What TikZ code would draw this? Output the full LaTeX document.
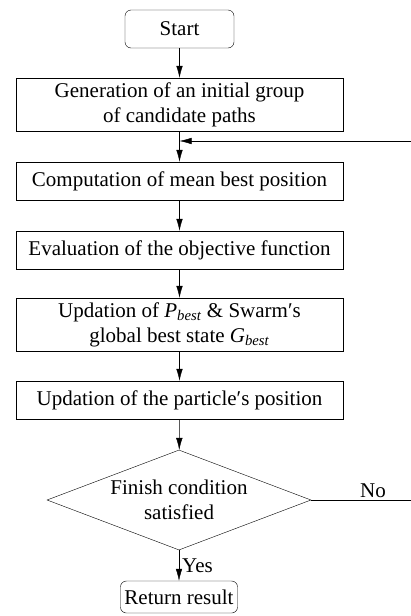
\documentclass[tikz,border=0pt]{standalone}
\usepackage{fontspec}
\setmainfont{Liberation Serif}
\newfontfamily\chartfont{Liberation Serif}
\usetikzlibrary{arrows.meta,shapes.geometric}
\tikzset{
  >={Latex[length=12pt,width=6.5pt]},
  line width=1.4pt,
}
\tikzstyle{every node}=[font=\chartfont\fontsize{21}{25}\selectfont]
\tikzstyle{process}=[draw,rectangle,minimum width=327pt,minimum height=38pt,inner sep=0pt,align=center]
\tikzstyle{terminal}=[draw,rectangle,rounded corners=6pt,minimum height=38pt,inner sep=6pt]
\tikzstyle{decision}=[draw,diamond,aspect=2.64,minimum width=264pt,minimum height=100pt,inner sep=0pt,align=center]
\tikzstyle{flow}=[->]

\begin{document}
\begin{tikzpicture}[x=1pt,y=-1pt]
    \useasboundingbox (0,0) rectangle (411,616);
    \node[terminal,minimum width=109pt] (start) at (179.5,29) {Start};
    \node[process,minimum height=53pt] (gen) at (179.5,104.5)
      {Generation of an initial group\\of candidate paths};
    \node[process] (mean) at (179.5,181) {Computation of mean best position};
    \node[process] (eval) at (179.5,250) {Evaluation of the objective function};
    \node[process,minimum height=53pt] (best) at (179.5,324.5)
      {Updation of \textit{P}\textsubscript{\textit{best}} \& Swarm′s\\global best state \textit{G}\textsubscript{\textit{best}}};
    \node[process] (pos) at (179.5,400) {Updation of the particle′s position};
    \node[decision] (finish) at (179,500) {Finish condition\\satisfied};
    \node[terminal,minimum height=32pt,inner sep=4pt] (result) at (179,597) {Return result};
    \coordinate (noend) at (411,500);
    \coordinate (loopin) at (411,141);
    \draw[flow] (start) -- (gen);
    \draw[flow] (gen) -- (mean);
    \draw[flow] (mean) -- (eval);
    \draw[flow] (eval) -- (best);
    \draw[flow] (best) -- (pos);
    \draw[flow] (pos) -- (finish);
    \draw[flow] (finish) -- node[right,inner sep=3pt]{Yes} (result);
    \draw (finish.east) -- node[above,pos=.62,inner sep=2pt]{No} (noend);
    \draw[flow] (loopin) -- (gen.south |- loopin);
\end{tikzpicture}
\end{document}
